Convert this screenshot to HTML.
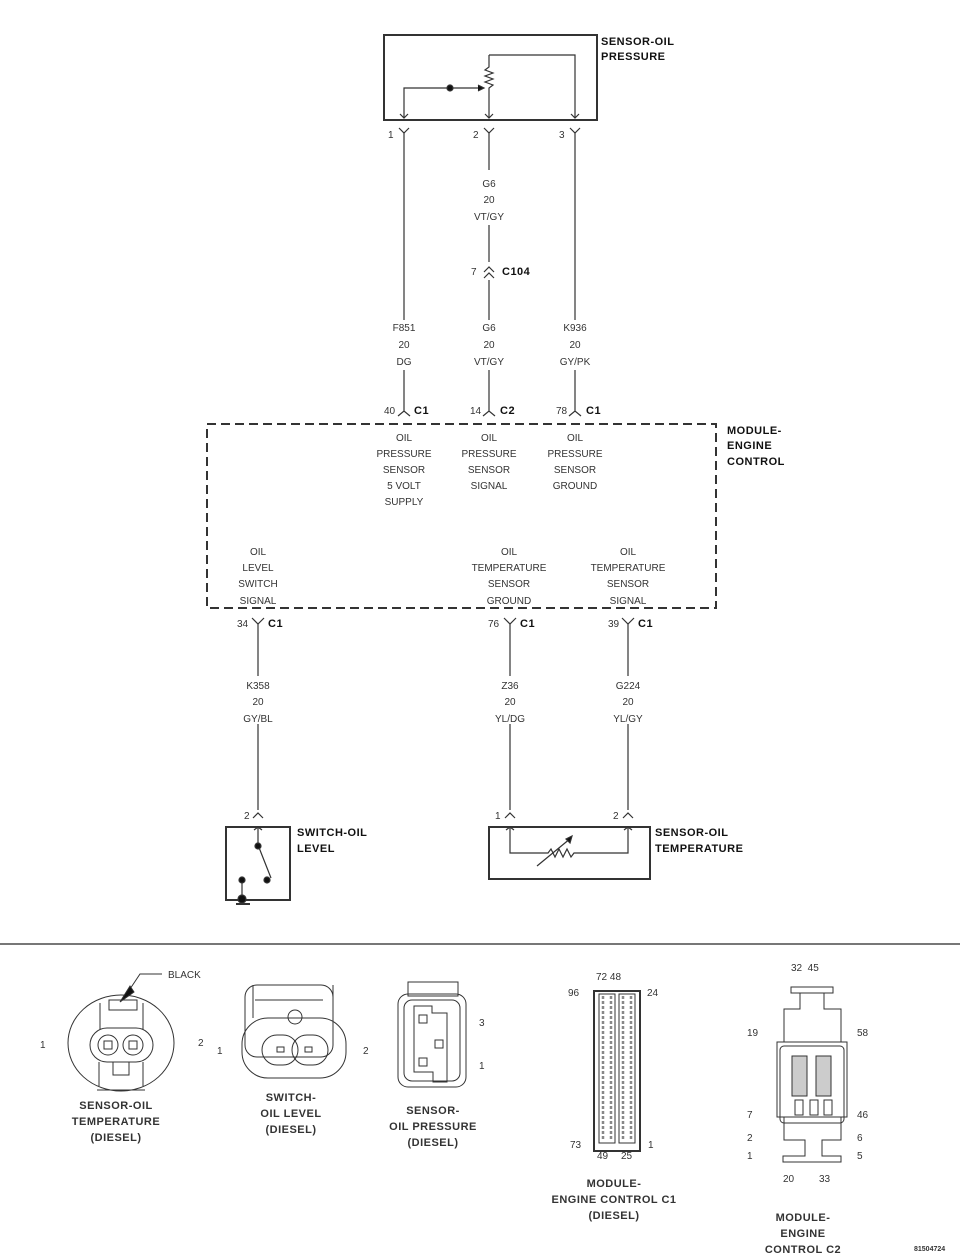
<!DOCTYPE html>
<html><head><meta charset="utf-8"><style>
body{margin:0;background:#fff}
svg{display:block}
text{font-family:"Liberation Sans",sans-serif;fill:#333}
.s{font-size:10px}
.b{font-size:11px;font-weight:bold;fill:#111;letter-spacing:0.5px}
</style></head><body>
<svg width="960" height="1257" viewBox="0 0 960 1257" xmlns="http://www.w3.org/2000/svg" stroke="#333" fill="none" stroke-width="1.2">
<!-- top sensor -->
<rect x="384" y="35" width="213" height="85" stroke-width="2"/>
<path d="M404 118 V88 H450 M450 88 H482"/><circle cx="450" cy="88" r="3" fill="#111"/>
<path d="M478 85 L484 88 L478 91" fill="#111"/>
<path d="M489 55 H575 V118 M489 55 V67 l-4 3 8 3 -8 3 8 3 -8 3 8 3 -4 3 V118"/>
<path d="M400 114 l4 4 4 -4 M485 114 l4 4 4 -4 M571 114 l4 4 4 -4"/>
<g stroke="none"><text x="601" y="45" class="b">SENSOR-OIL</text><text x="601" y="60" class="b">PRESSURE</text>
<text x="388" y="138" class="s">1</text><text x="473" y="138" class="s">2</text><text x="559" y="138" class="s">3</text></g>
<path d="M399 128 l5 5 5 -5 M484 128 l5 5 5 -5 M570 128 l5 5 5 -5"/>
<path d="M404 133 V320 M404 370 V404 M489 133 V170 M575 133 V320 M575 370 V404 M489 225 V262 M489 280 V320 M489 370 V404"/>
<path d="M484 272 l5 -5 5 5 M484 278 l5 -5 5 5"/>
<g stroke="none" text-anchor="middle">
<text x="489" y="187" class="s">G6</text><text x="489" y="203" class="s">20</text><text x="489" y="220" class="s">VT/GY</text>
<text x="404" y="331" class="s">F851</text><text x="404" y="348" class="s">20</text><text x="404" y="365" class="s">DG</text>
<text x="489" y="331" class="s">G6</text><text x="489" y="348" class="s">20</text><text x="489" y="365" class="s">VT/GY</text>
<text x="575" y="331" class="s">K936</text><text x="575" y="348" class="s">20</text><text x="575" y="365" class="s">GY/PK</text>
</g>
<g stroke="none"><text x="471" y="275" class="s">7</text><text x="502" y="275" class="b">C104</text>
<text x="384" y="414" class="s">40</text><text x="414" y="414" class="b">C1</text>
<text x="470" y="414" class="s">14</text><text x="500" y="414" class="b">C2</text>
<text x="556" y="414" class="s">78</text><text x="586" y="414" class="b">C1</text></g>
<path d="M404 404 V412 M398 416 l6 -5 6 5 M489 404 V412 M483 416 l6 -5 6 5 M575 404 V412 M569 416 l6 -5 6 5"/>
<!-- ECM -->
<rect x="207" y="424" width="509" height="184" stroke-width="2" stroke-dasharray="9,5"/>
<g stroke="none"><text x="727" y="434" class="b">MODULE-</text><text x="727" y="449" class="b">ENGINE</text><text x="727" y="465" class="b">CONTROL</text></g>
<g stroke="none" text-anchor="middle" class="s">
<text x="404" y="441">OIL</text><text x="404" y="457">PRESSURE</text><text x="404" y="473">SENSOR</text><text x="404" y="489">5 VOLT</text><text x="404" y="505">SUPPLY</text>
<text x="489" y="441">OIL</text><text x="489" y="457">PRESSURE</text><text x="489" y="473">SENSOR</text><text x="489" y="489">SIGNAL</text>
<text x="575" y="441">OIL</text><text x="575" y="457">PRESSURE</text><text x="575" y="473">SENSOR</text><text x="575" y="489">GROUND</text>
<text x="258" y="555">OIL</text><text x="258" y="571">LEVEL</text><text x="258" y="587">SWITCH</text><text x="258" y="604">SIGNAL</text>
<text x="509" y="555">OIL</text><text x="509" y="571">TEMPERATURE</text><text x="509" y="587">SENSOR</text><text x="509" y="604">GROUND</text>
<text x="628" y="555">OIL</text><text x="628" y="571">TEMPERATURE</text><text x="628" y="587">SENSOR</text><text x="628" y="604">SIGNAL</text>
</g>
<path d="M252 618 l6 6 6 -6 M504 618 l6 6 6 -6 M622 618 l6 6 6 -6"/>
<g stroke="none"><text x="237" y="627" class="s">34</text><text x="268" y="627" class="b">C1</text>
<text x="488" y="627" class="s">76</text><text x="520" y="627" class="b">C1</text>
<text x="608" y="627" class="s">39</text><text x="638" y="627" class="b">C1</text></g>
<path d="M258 624 V676 M258 724 V810 M510 624 V676 M510 724 V810 M628 624 V676 M628 724 V810"/>
<g stroke="none" text-anchor="middle" class="s">
<text x="258" y="689">K358</text><text x="258" y="705">20</text><text x="258" y="722">GY/BL</text>
<text x="510" y="689">Z36</text><text x="510" y="705">20</text><text x="510" y="722">YL/DG</text>
<text x="628" y="689">G224</text><text x="628" y="705">20</text><text x="628" y="722">YL/GY</text>
</g>
<path d="M253 818 l5 -5 5 5 M505 818 l5 -5 5 5 M623 818 l5 -5 5 5"/>
<g stroke="none" class="s"><text x="244" y="819">2</text><text x="495" y="819">1</text><text x="613" y="819">2</text></g>
<rect x="226" y="827" width="64" height="73" stroke-width="2"/>
<path d="M254 830 l4 -3 4 3 M258 828 V845 L271 878 M242 880 V898"/>
<circle cx="258" cy="846" r="3" fill="#111"/><circle cx="267" cy="880" r="3" fill="#111"/><circle cx="242" cy="880" r="3" fill="#111"/><circle cx="242" cy="899" r="4" fill="#111"/>
<path d="M236 904 H250" stroke-width="2"/>
<g stroke="none"><text x="297" y="836" class="b">SWITCH-OIL</text><text x="297" y="852" class="b">LEVEL</text></g>
<rect x="489" y="827" width="161" height="52" stroke-width="2"/>
<path d="M506 830 l4 -3 4 3 M624 830 l4 -3 4 3 M510 828 V853 H548 l3 -4 4 8 4 -8 4 8 4 -8 4 8 3 -4 H628 V828 M537 866 L571 838"/>
<path d="M566 839 L572 836 L570 843 Z" fill="#111"/>
<g stroke="none"><text x="655" y="836" class="b">SENSOR-OIL</text><text x="655" y="852" class="b">TEMPERATURE</text></g>
<path d="M0 944 H960" stroke="#777" stroke-width="2"/>
<g stroke-width="1">
<ellipse cx="121" cy="1043" rx="53" ry="48"/>
<path d="M99 1086 V1062 M143 1086 V1062 M97 1090 H145 M113 1062 V1075 H129 V1062 M100 1003 V1030 M143 1003 V1030 M109 1000 H137 V1010 H109 Z"/>
<rect x="90" y="1028" width="63" height="34" rx="17"/>
<circle cx="108" cy="1045" r="10"/><circle cx="133" cy="1045" r="10"/>
<rect x="104" y="1041" width="8" height="8"/><rect x="129" y="1041" width="8" height="8"/>
<path d="M124 998 L140 974 H162"/><path d="M120 1002 L130 986 L134 992 Z" fill="#111"/>
<rect x="245" y="985" width="88" height="72" rx="12"/>
<rect x="242" y="1018" width="104" height="60" rx="26"/>
<path d="M255 1000 H323 M253 985 V1018 M333 985 V1018"/><circle cx="295" cy="1017" r="7"/>
<rect x="262" y="1035" width="36" height="30" rx="15"/><rect x="292" y="1035" width="36" height="30" rx="15"/>
<rect x="277" y="1047" width="7" height="5"/><rect x="305" y="1047" width="7" height="5"/>
<rect x="408" y="982" width="50" height="14"/>
<rect x="398" y="994" width="68" height="93" rx="10"/>
<rect x="404" y="1000" width="56" height="81" rx="8"/>
<path d="M414 1006 H432 V1013 H447 V1082 H433 V1072 H414 Z"/>
<rect x="419" y="1015" width="8" height="8"/><rect x="435" y="1040" width="8" height="8"/><rect x="419" y="1058" width="8" height="8"/>
<rect x="594" y="991" width="46" height="160" stroke-width="2"/>
<rect x="599" y="994" width="16" height="149"/><rect x="619" y="994" width="16" height="149"/>
<path d="M603 996 V1140 M611 996 V1140 M623 996 V1140 M631 996 V1140" stroke-dasharray="3,2" stroke-width="2.5" stroke="#888"/>
<rect x="791" y="987" width="42" height="6"/>
<path d="M800 993 V1009 H784 V1042 M824 993 V1009 H841 V1042"/>
<rect x="777" y="1042" width="70" height="75"/>
<rect x="780" y="1046" width="64" height="77" rx="4"/>
<rect x="792" y="1056" width="15" height="40" fill="#ccc"/><rect x="816" y="1056" width="15" height="40" fill="#ccc"/>
<rect x="795" y="1100" width="8" height="15"/><rect x="810" y="1100" width="8" height="15"/><rect x="824" y="1100" width="8" height="15"/>
<path d="M784 1117 V1140 H805 V1156 H783 V1162 H841 V1156 H822 V1140 H841 V1117"/>
</g>
<g stroke="none" class="s">
<text x="168" y="978">BLACK</text>
<text x="40" y="1048">1</text><text x="198" y="1046">2</text><text x="217" y="1054">1</text><text x="363" y="1054">2</text>
<text x="479" y="1026">3</text><text x="479" y="1069">1</text>
<text x="568" y="996">96</text><text x="596" y="980">72 48</text><text x="647" y="996">24</text>
<text x="570" y="1148">73</text><text x="597" y="1159">49</text><text x="621" y="1159">25</text><text x="648" y="1148">1</text>
<text x="791" y="971">32 &#160;45</text><text x="747" y="1036">19</text><text x="857" y="1036">58</text>
<text x="747" y="1118">7</text><text x="857" y="1118">46</text><text x="747" y="1141">2</text><text x="857" y="1141">6</text>
<text x="747" y="1159">1</text><text x="857" y="1159">5</text><text x="783" y="1182">20</text><text x="819" y="1182">33</text>
</g>
<g stroke="none" class="b" text-anchor="middle">
<text x="116" y="1109">SENSOR-OIL</text><text x="116" y="1125">TEMPERATURE</text><text x="116" y="1141">(DIESEL)</text>
<text x="291" y="1101">SWITCH-</text><text x="291" y="1117">OIL LEVEL</text><text x="291" y="1133">(DIESEL)</text>
<text x="433" y="1114">SENSOR-</text><text x="433" y="1130">OIL PRESSURE</text><text x="433" y="1146">(DIESEL)</text>
<text x="614" y="1187">MODULE-</text><text x="614" y="1203">ENGINE CONTROL C1</text><text x="614" y="1219">(DIESEL)</text>
<text x="803" y="1221">MODULE-</text><text x="803" y="1237">ENGINE</text><text x="803" y="1253">CONTROL C2</text>
</g>
<text x="914" y="1251" stroke="none" style="font-size:7px;font-weight:bold">81504724</text>
</svg>
</body></html>
